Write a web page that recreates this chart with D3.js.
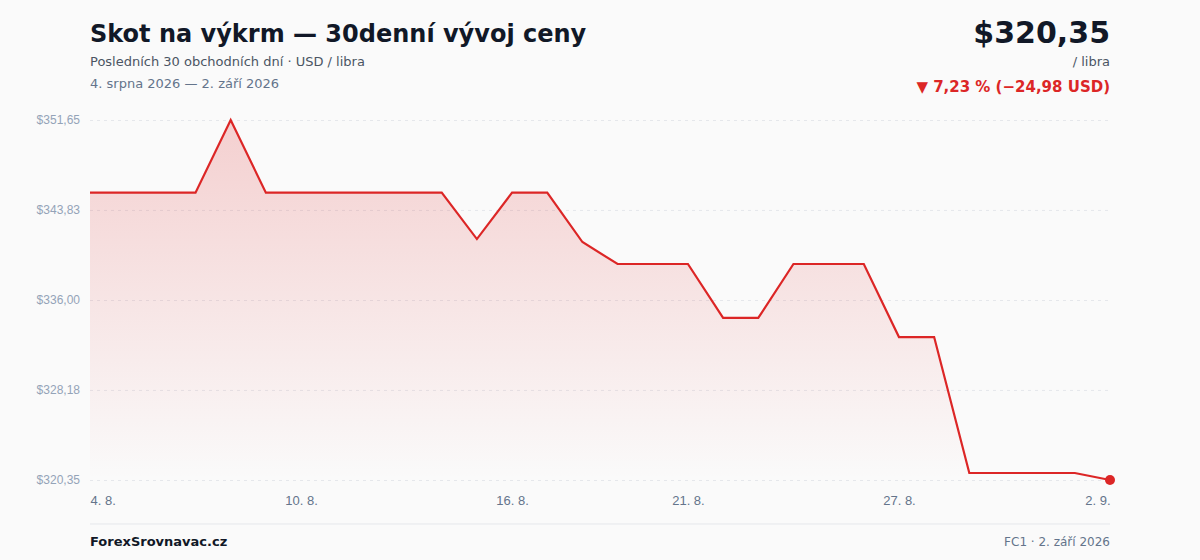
<!DOCTYPE html>
<html lang="cs">
<head>
<meta charset="utf-8">
<script src="https://cdn.jsdelivr.net/npm/d3@7"></script>
<style>
  html, body { margin: 0; padding: 0; background: #fafafa; }
  body { width: 1200px; height: 560px; overflow: hidden; font-family: "DejaVu Sans", sans-serif; }
</style>
</head>
<body>
<div id="chart"></div>
<script>
/* DATA */
const dates = [
  "2026-08-04", "2026-08-05", "2026-08-06", "2026-08-07", "2026-08-08", "2026-08-09",
  "2026-08-10", "2026-08-11", "2026-08-12", "2026-08-13", "2026-08-14", "2026-08-15",
  "2026-08-16", "2026-08-17", "2026-08-18", "2026-08-19", "2026-08-20", "2026-08-21",
  "2026-08-22", "2026-08-23", "2026-08-24", "2026-08-25", "2026-08-26", "2026-08-27",
  "2026-08-28", "2026-08-29", "2026-08-30", "2026-08-31", "2026-09-01", "2026-09-02"
];
const prices = [
  345.33, 345.33, 345.33, 345.33, 351.65, 345.33,
  345.33, 345.33, 345.33, 345.33, 345.33, 341.30,
  345.33, 345.33, 341.04, 339.13, 339.13, 339.13,
  334.44, 334.44, 339.13, 339.13, 339.13, 332.78,
  332.78, 320.96, 320.96, 320.96, 320.96, 320.35
];
const xTickIndex = [0, 6, 12, 17, 23, 29];
const xTickLabels = ["4. 8.", "10. 8.", "16. 8.", "21. 8.", "27. 8.", "2. 9."];
const yTicks = [351.65, 343.83, 336.00, 328.18, 320.35];

const title = "Skot na výkrm — 30denní vývoj ceny";
const subtitle = "Posledních 30 obchodních dní · USD / libra";
const rangeLabel = "4. srpna 2026 — 2. září 2026";
const unitLabel = "/ libra";
const sourceLabel = "ForexSrovnavac.cz";
const footRight = "FC1 · 2. září 2026";

/* LAYOUT */
const width = 1200, height = 560,
  margin = { top: 120, bottom: 80, left: 90, right: 90 };

const fmt = v => "$" + v.toFixed(2).replace(".", ",");
const fmtNum = v => v.toFixed(2).replace(".", ",");

const data = dates.map((d, i) => ({ i, date: d, value: prices[i] }));

const svg = d3.select("#chart").append("svg")
  .attr("width", width)
  .attr("height", height)
  .style("font-family", "'DejaVu Sans', sans-serif");

const xScale = d3.scaleLinear()
  .domain([0, data.length - 1])
  .range([margin.left, width - margin.right]);

const yScale = d3.scaleLinear()
  .domain([d3.min(prices), d3.max(prices)])
  .range([height - margin.bottom, margin.top]);

// gradient for area
const defs = svg.append("defs");
const grad = defs.append("linearGradient")
  .attr("id", "areaFill")
  .attr("x1", 0).attr("y1", 0).attr("x2", 0).attr("y2", 1);
grad.append("stop").attr("offset", "0%").attr("stop-color", "#dc2626").attr("stop-opacity", 0.2);
grad.append("stop").attr("offset", "100%").attr("stop-color", "#dc2626").attr("stop-opacity", 0.0);

// grid + y labels
const yAxis = d3.axisLeft(yScale)
  .tickValues(yTicks)
  .tickSize(-(width - margin.left - margin.right))
  .tickPadding(10)
  .tickFormat(fmt);

svg.append("g")
  .attr("class", "yAxis")
  .attr("transform", `translate(${margin.left}, 0)`)
  .call(yAxis)
  .call(g => g.select(".domain").remove())
  .call(g => g.selectAll("line")
    .attr("stroke", "#e5e7eb")
    .attr("stroke-dasharray", "3,4"))
  .call(g => g.selectAll("text")
    .attr("fill", "#94a3b8")
    .attr("font-size", 12));

// area + line
const area = d3.area()
  .x(d => xScale(d.i))
  .y0(height - margin.bottom)
  .y1(d => yScale(d.value));

const line = d3.line()
  .x(d => xScale(d.i))
  .y(d => yScale(d.value));

svg.append("path")
  .datum(data)
  .attr("d", area)
  .attr("fill", "url(#areaFill)");

svg.append("path")
  .datum(data)
  .attr("d", line)
  .attr("fill", "none")
  .attr("stroke", "#dc2626")
  .attr("stroke-width", 2.2)
  .attr("stroke-linejoin", "miter");

const last = data[data.length - 1];
svg.append("circle")
  .attr("cx", xScale(last.i))
  .attr("cy", yScale(last.value))
  .attr("r", 5)
  .attr("fill", "#dc2626");

// x labels
const xAxis = d3.axisBottom(xScale)
  .tickValues(xTickIndex)
  .tickSize(0)
  .tickPadding(16)
  .tickFormat((d, k) => xTickLabels[k]);

svg.append("g")
  .attr("class", "xAxis")
  .attr("transform", `translate(0, ${height - margin.bottom})`)
  .call(xAxis)
  .call(g => g.select(".domain").remove())
  .call(g => g.selectAll("text")
    .attr("fill", "#64748b")
    .attr("font-size", 13)
    .attr("text-anchor", (d, k) => k === 0 ? "start" : (k === xTickIndex.length - 1 ? "end" : "middle")));

// header
svg.append("text")
  .attr("x", margin.left).attr("y", 42)
  .attr("font-size", 24).attr("font-weight", "bold")
  .attr("fill", "#111827")
  .text(title);

svg.append("text")
  .attr("x", margin.left).attr("y", 66)
  .attr("font-size", 13).attr("fill", "#4b5563")
  .text(subtitle);

svg.append("text")
  .attr("x", margin.left).attr("y", 88)
  .attr("font-size", 13).attr("fill", "#64748b")
  .text(rangeLabel);

const first = data[0];
const diff = last.value - first.value;
const pct = diff / first.value * 100;

svg.append("text")
  .attr("x", width - margin.right).attr("y", 43)
  .attr("text-anchor", "end")
  .attr("font-size", 30).attr("font-weight", "bold")
  .attr("fill", "#111827")
  .text(fmt(last.value));

svg.append("text")
  .attr("x", width - margin.right).attr("y", 66)
  .attr("text-anchor", "end")
  .attr("font-size", 13).attr("fill", "#4b5563")
  .text(unitLabel);

svg.append("text")
  .attr("x", width - margin.right).attr("y", 92)
  .attr("text-anchor", "end")
  .attr("font-size", 15).attr("font-weight", "bold")
  .attr("fill", "#dc2626")
  .text(`▼ ${fmtNum(Math.abs(pct))} % (−${fmtNum(Math.abs(diff))} USD)`);

// footer
svg.append("line")
  .attr("x1", margin.left).attr("x2", width - margin.right)
  .attr("y1", 524).attr("y2", 524)
  .attr("stroke", "#e5e7eb").attr("stroke-width", 1);

svg.append("text")
  .attr("x", margin.left).attr("y", 546)
  .attr("font-size", 13).attr("font-weight", "bold")
  .attr("fill", "#111827")
  .text(sourceLabel);

svg.append("text")
  .attr("x", width - margin.right).attr("y", 546)
  .attr("text-anchor", "end")
  .attr("font-size", 12).attr("fill", "#64748b")
  .text(footRight);
</script>
</body>
</html>
